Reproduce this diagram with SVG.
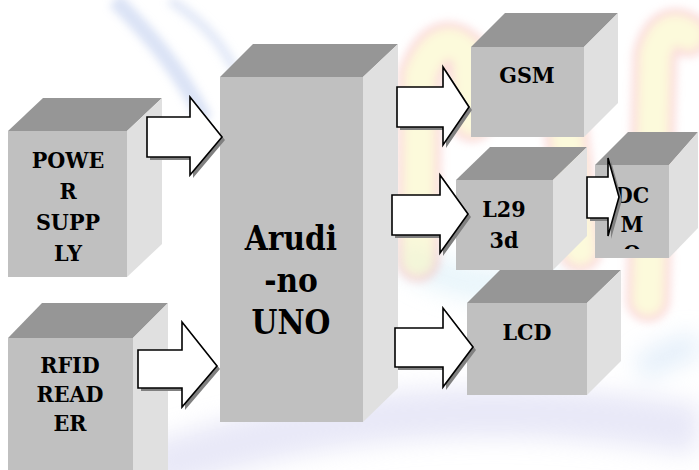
<svg xmlns="http://www.w3.org/2000/svg" width="699" height="470" viewBox="0 0 699 470">
<defs>
<style>
.top{fill:#969696}
.front{fill:#c0c0c0}
.side{fill:#e0e0e0}
.lbl{font-family:"DejaVu Serif Condensed","DejaVu Serif","Liberation Serif",serif;font-stretch:condensed;font-weight:bold;fill:#000;text-anchor:middle}
.arr{fill:#fff;stroke:#000;stroke-width:1.6;stroke-linejoin:miter}
.shd{fill:#808080}
.pk{fill:none;stroke:#f6b4b4;stroke-width:44;stroke-linecap:round;stroke-linejoin:round}
.yl{fill:none;stroke:#fbf6b8;stroke-width:30;stroke-linecap:round;stroke-linejoin:round}
</style>
<filter id="blur" x="-20%" y="-20%" width="140%" height="140%"><feGaussianBlur stdDeviation="4"/></filter>
<filter id="blur2" x="-20%" y="-20%" width="140%" height="140%"><feGaussianBlur stdDeviation="12"/></filter>
<clipPath id="dcclip"><rect x="595" y="165" width="74" height="84"/></clipPath>
</defs>
<rect width="699" height="470" fill="#fff"/>
<g id="background">
<g filter="url(#blur2)" opacity="0.5">
<path d="M150,470 Q400,380 699,430" fill="none" stroke="#d2d2f0" stroke-width="50"/>
<path d="M400,250 Q460,300 560,280" fill="none" stroke="#cfeaf6" stroke-width="30"/>
<path d="M640,370 Q670,350 699,345" fill="none" stroke="#c4dcf4" stroke-width="24"/>
</g>
<g filter="url(#blur)" opacity="0.5">
<path d="M115,0 C150,35 180,70 205,120" fill="none" stroke="#b6c6ec" stroke-width="16"/>
<path d="M170,0 C200,20 220,40 235,70" fill="none" stroke="#c8d4f0" stroke-width="10"/>
<path class="pk" d="M418,260 L420,75 Q440,25 468,55 L472,120"/>
<path class="yl" d="M418,260 L420,75 Q440,25 468,55 L472,120"/>
<path class="pk" d="M648,300 L655,55 Q665,20 688,35"/>
<path class="yl" d="M648,300 L655,55 Q665,20 688,35"/>
<path class="pk" d="M565,120 L580,250"/>
<path class="yl" d="M565,120 L580,250"/>
</g>
</g>
<g id="power-supply">
<polygon class="top" points="8,131 43,98 162,98 127,131"/>
<polygon class="side" points="127,131 162,98 162,244 127,277"/>
<rect class="front" x="8" y="131" width="119" height="146"/>
<text class="lbl" font-size="23"><tspan x="68" y="168">POWE</tspan><tspan x="68" y="199">R</tspan><tspan x="68" y="230">SUPP</tspan><tspan x="68" y="261">LY</tspan></text>
</g>
<g id="rfid-reader">
<polygon class="top" points="8,338 42,303 168,303 133,338"/>
<polygon class="side" points="133,338 168,303 168,470 133,470"/>
<rect class="front" x="8" y="338" width="125" height="132"/>
<text class="lbl" font-size="23"><tspan x="70" y="373">RFID</tspan><tspan x="70" y="402">READ</tspan><tspan x="70" y="431">ER</tspan></text>
</g>
<g id="arduino-uno">
<polygon class="top" points="220,77 253,44 398,44 363,77"/>
<polygon class="side" points="363,77 398,44 398,388 363,422"/>
<rect class="front" x="220" y="77" width="143" height="345"/>
<text class="lbl" font-size="33"><tspan x="291" y="250">Arudi</tspan><tspan x="291" y="292">-no</tspan><tspan x="291" y="334">UNO</tspan></text>
</g>
<g id="gsm">
<polygon class="top" points="471,47 505,13 618,13 584,47"/>
<polygon class="side" points="584,47 618,13 618,103 584,137"/>
<rect class="front" x="471" y="47" width="113" height="90"/>
<text class="lbl" font-size="23" x="527" y="83">GSM</text>
</g>
<g id="l293d">
<polygon class="top" points="456,180 490,147 587,147 553,180"/>
<polygon class="side" points="553,180 587,147 587,236 553,270"/>
<rect class="front" x="456" y="180" width="97" height="90"/>
<text class="lbl" font-size="23"><tspan x="504" y="217">L29</tspan><tspan x="504" y="248">3d</tspan></text>
</g>
<g id="dc-motor">
<polygon class="top" points="595,165 628,132 698,132 669,165"/>
<polygon class="side" points="669,165 698,132 698,228 669,258"/>
<rect class="front" x="595" y="165" width="74" height="93"/>
<text class="lbl" font-size="23" clip-path="url(#dcclip)"><tspan x="632" y="203">DC</tspan><tspan x="632" y="232">M</tspan><tspan x="632" y="261">O</tspan></text>
</g>
<g id="lcd">
<polygon class="top" points="467,303 500,270 621,270 587,303"/>
<polygon class="side" points="587,303 621,270 621,361 587,395"/>
<rect class="front" x="467" y="303" width="120" height="92"/>
<text class="lbl" font-size="23" x="527" y="340">LCD</text>
</g>
<g id="connectors">
<g transform="translate(3,3)">
<path class="shd" d="M147,117 H190 V97 L222,137 L190,175 V157 H147 Z"/>
<path class="shd" d="M138,350 H182 V322 L217,366 L182,407 V388 H138 Z"/>
<path class="shd" d="M397,87 H443 V67 L469,107 L443,145 V127 H397 Z"/>
<path class="shd" d="M392,195 H440 V175 L468,214 L440,253 V235 H392 Z"/>
<path class="shd" d="M395,328 H443 V308 L473,347 L443,387 V367 H395 Z"/>
<path class="shd" d="M587,177 H608 V158 L619,197 L608,236 V218 H587 Z"/>
</g>
<path class="arr" d="M147,117 H190 V97 L222,137 L190,175 V157 H147 Z"/>
<path class="arr" d="M138,350 H182 V322 L217,366 L182,407 V388 H138 Z"/>
<path class="arr" d="M397,87 H443 V67 L469,107 L443,145 V127 H397 Z"/>
<path class="arr" d="M392,195 H440 V175 L468,214 L440,253 V235 H392 Z"/>
<path class="arr" d="M395,328 H443 V308 L473,347 L443,387 V367 H395 Z"/>
<path class="arr" d="M587,177 H608 V158 L619,197 L608,236 V218 H587 Z"/>
</g>
</svg>
